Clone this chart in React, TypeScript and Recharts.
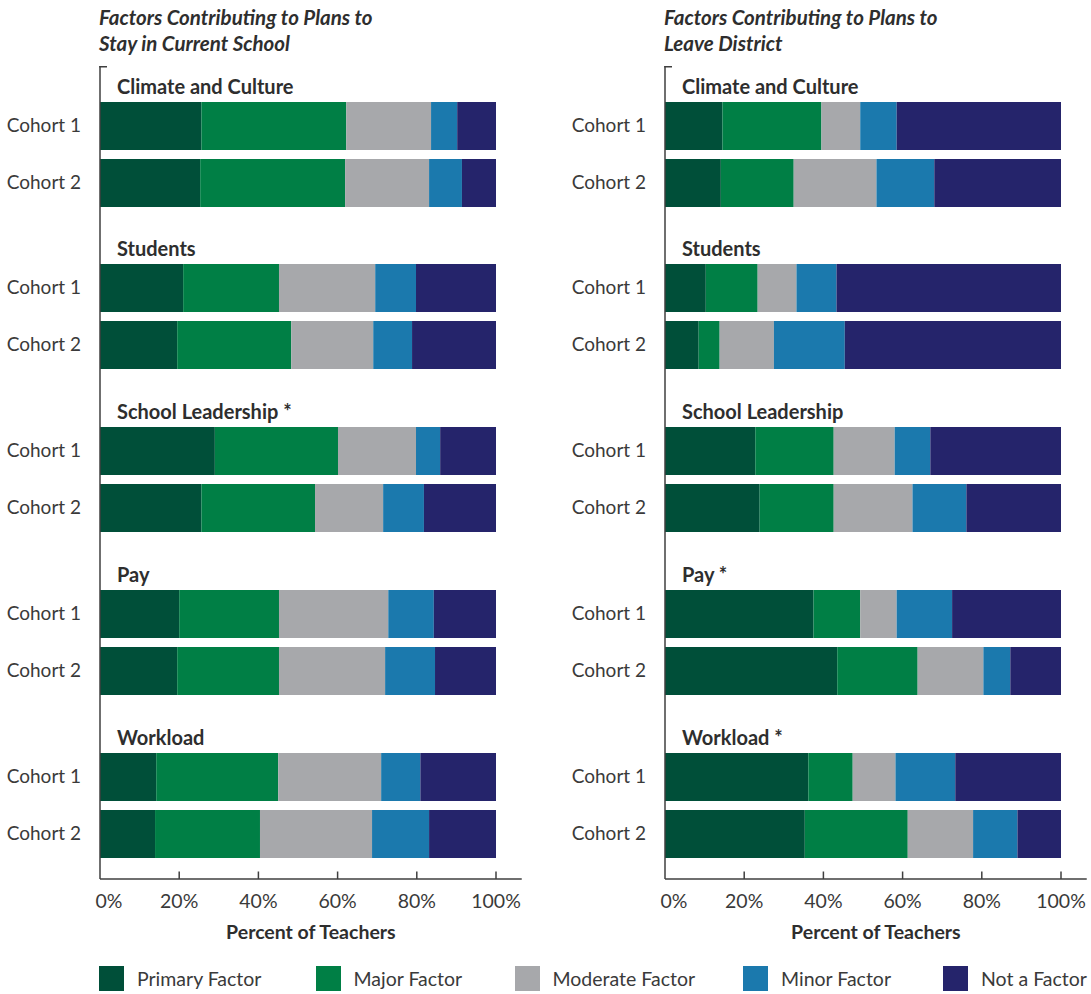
import React from 'react';
import { BarChart, Bar, XAxis, YAxis } from 'recharts';

// ---- data -------------------------------------------------------------
const cohorts = ['Cohort 1', 'Cohort 2'];
const factorKeys = ['primary', 'major', 'moderate', 'minor', 'none'];
const factorLabels = ['Primary Factor', 'Major Factor', 'Moderate Factor', 'Minor Factor', 'Not a Factor'];
const factorColors = ['#004f39', '#007f45', '#a7a8ab', '#1b79ad', '#25246b'];
const percentTicks = [0, 20, 40, 60, 80, 100];

const stayTitle = ['Factors Contributing to Plans to', 'Stay in Current School'];
const leaveTitle = ['Factors Contributing to Plans to', 'Leave District'];
const stayTopics = ['Climate and Culture', 'Students', 'School Leadership *', 'Pay', 'Workload'];
const leaveTopics = ['Climate and Culture', 'Students', 'School Leadership', 'Pay *', 'Workload *'];

// Order in every series: topic 1 (Cohort 1, Cohort 2), topic 2 (Cohort 1, Cohort 2), ...
const stayPrimary = [25.6, 25.3, 21.0, 19.5, 29.0, 25.6, 20.0, 19.5, 14.2, 13.9];
const stayMajor = [36.6, 36.6, 24.2, 28.8, 31.1, 28.7, 25.2, 25.7, 30.8, 26.5];
const stayModerate = [21.4, 21.2, 24.3, 20.7, 19.7, 17.2, 27.6, 26.8, 26.0, 28.3];
const stayMinor = [6.6, 8.3, 10.3, 9.8, 6.1, 10.3, 11.5, 12.6, 9.9, 14.4];
const stayNone = [9.8, 8.6, 20.2, 21.2, 14.1, 18.2, 15.7, 15.4, 19.1, 16.9];

const leavePrimary = [14.5, 14.1, 10.3, 8.5, 22.8, 23.9, 37.5, 43.5, 36.2, 35.3];
const leaveMajor = [25.0, 18.4, 13.1, 5.3, 19.8, 18.7, 11.8, 20.3, 11.2, 26.0];
const leaveModerate = [9.8, 20.9, 9.8, 13.7, 15.4, 19.9, 9.2, 16.6, 10.8, 16.5];
const leaveMinor = [9.2, 14.6, 10.1, 17.9, 9.0, 13.6, 14.0, 6.8, 15.1, 11.2];
const leaveNone = [41.5, 32.0, 56.7, 54.6, 33.0, 23.9, 27.5, 12.8, 26.7, 11.0];

const staySeries = [stayPrimary, stayMajor, stayModerate, stayMinor, stayNone];
const leaveSeries = [leavePrimary, leaveMajor, leaveModerate, leaveMinor, leaveNone];

// ---- layout -----------------------------------------------------------
const FONT = "Lato, 'Open Sans', sans-serif";
const AXIS_COLOR = '#3f3f3f';
const TEXT_COLOR = '#3a3a3a';
const HEAD_COLOR = '#2e2e2e';

const PANEL_LEFT = [0, 565];
const AXIS_X = 100;
const X_MAX = 106.5;
const PX_PER_PCT = 3.96;
const PLOT_W = X_MAX * PX_PER_PCT;
const CHART_W = 545;
const AXIS_TOP = 66;
const GROUP_BAR_TOPS = [101, 263, 426, 589, 752];
const BAND = 57;
const BAR = 48;
const BAR_INSET = 4;
const PAD_BOTTOM = 17;
const X_AXIS_H = 60;
const BOTTOM_ROOM = 10;
const LEGEND_X = [99, 315.5, 514.5, 743, 943];
const LEGEND_TOP = 966;

function groupFrame(g: number) {
  const bandStart = GROUP_BAR_TOPS[g] - BAR_INSET;
  const top = g === 0 ? AXIS_TOP : GROUP_BAR_TOPS[g - 1] - BAR_INSET + 2 * BAND;
  const padTop = bandStart - top;
  const last = g === GROUP_BAR_TOPS.length - 1;
  const padBottom = last ? PAD_BOTTOM : 0;
  const marginBottom = last ? BOTTOM_ROOM : 0;
  const height = padTop + 2 * BAND + padBottom + (last ? X_AXIS_H : 0) + marginBottom;
  return { top, padTop, padBottom, marginBottom, height, last };
}

const PercentTick = (props: any) => {
  const { x, y, payload } = props;
  const v = payload.value;
  return (
    <g>
      {v !== 0 && (
        <line x1={x} x2={x} y1={y} y2={y - 7.5} stroke={AXIS_COLOR} strokeWidth={1.5} />
      )}
      <text
        x={x + (v === 0 ? 9 : 0)}
        y={y + 29}
        textAnchor="middle"
        fontFamily={FONT}
        fontSize={19.5}
        fill={TEXT_COLOR}
      >
        {`${v}%`}
      </text>
    </g>
  );
};

type PanelProps = {
  left: number;
  title: string[];
  topics: string[];
  series: number[][];
};

function Panel({ left, title, topics, series }: PanelProps) {
  return (
    <div style={{ position: 'absolute', left, top: 0, width: CHART_W, height: 994 }}>
      {topics.map((topic, g) => {
        const f = groupFrame(g);
        const rows = cohorts.map((c, i) => {
          const r: Record<string, any> = { cohort: c };
          factorKeys.forEach((k, j) => {
            r[k] = series[j][g * 2 + i];
          });
          return r;
        });
        return (
          <div key={topic} style={{ position: 'absolute', left: 0, top: f.top }}>
            <BarChart
              width={CHART_W}
              height={f.height}
              data={rows}
              layout="vertical"
              barCategoryGap={0}
              margin={{ top: 0, right: CHART_W - AXIS_X - PLOT_W, bottom: f.marginBottom, left: 0 }}
            >
              <XAxis
                type="number"
                domain={[0, X_MAX]}
                ticks={percentTicks}
                interval={0}
                hide={!f.last}
                height={X_AXIS_H}
                axisLine={{ stroke: AXIS_COLOR, strokeWidth: 1.5 }}
                tickLine={false}
                tickSize={0}
                tickMargin={0}
                tick={<PercentTick />}
                label={{
                  value: 'Percent of Teachers',
                  position: 'insideBottom',
                  offset: 0,
                  fill: HEAD_COLOR,
                  fontSize: 19.5,
                  fontWeight: 700,
                  fontFamily: FONT,
                }}
              />
              <YAxis
                type="category"
                dataKey="cohort"
                width={AXIS_X}
                padding={{ top: f.padTop, bottom: f.padBottom }}
                axisLine={{ stroke: AXIS_COLOR, strokeWidth: 1.5 }}
                tickLine={false}
                tickSize={0}
                tickMargin={19}
                interval={0}
                tick={{ fill: TEXT_COLOR, fontSize: 19, fontFamily: FONT }}
              />
              {factorKeys.map((k, j) => (
                <Bar
                  key={k}
                  dataKey={k}
                  name={factorLabels[j]}
                  stackId="share"
                  fill={factorColors[j]}
                  barSize={BAR}
                  isAnimationActive={false}
                />
              ))}
            </BarChart>
          </div>
        );
      })}
      <svg
        width={CHART_W}
        height={994}
        style={{ position: 'absolute', left: 0, top: 0, pointerEvents: 'none', overflow: 'visible' }}
      >
        {title.map((line, i) => (
          <text
            key={line}
            x={AXIS_X - 1}
            y={24.5 + i * 26.5}
            fontFamily={FONT}
            fontSize={20.5}
            fontWeight={700}
            fontStyle="italic"
            fill={HEAD_COLOR}
          >
            {line}
          </text>
        ))}
        <line
          x1={AXIS_X - 0.75}
          x2={AXIS_X + 7}
          y1={AXIS_TOP + 0.75}
          y2={AXIS_TOP + 0.75}
          stroke={AXIS_COLOR}
          strokeWidth={1.5}
        />
        {topics.map((topic, g) => (
          <text
            key={topic}
            x={AXIS_X + 17}
            y={GROUP_BAR_TOPS[g] - 7}
            fontFamily={FONT}
            fontSize={20}
            fontWeight={700}
            fill={HEAD_COLOR}
          >
            {topic}
          </text>
        ))}
      </svg>
    </div>
  );
}

function FactorLegend() {
  return (
    <div style={{ position: 'absolute', left: 0, top: LEGEND_TOP, width: 1091, height: 25 }}>
      {factorLabels.map((name, j) => (
        <div
          key={name}
          style={{
            position: 'absolute',
            left: LEGEND_X[j],
            top: 0,
            height: 25,
            display: 'flex',
            alignItems: 'center',
          }}
        >
          <div style={{ width: 25, height: 25, background: factorColors[j] }} />
          <span
            style={{
              marginLeft: 13,
              fontFamily: FONT,
              fontSize: 19.5,
              lineHeight: '25px',
              color: TEXT_COLOR,
              whiteSpace: 'nowrap',
            }}
          >
            {name}
          </span>
        </div>
      ))}
    </div>
  );
}

export default function App() {
  return (
    <div
      style={{
        position: 'absolute',
        left: 0,
        top: 0,
        width: 1091,
        height: 994,
        background: '#ffffff',
        overflow: 'hidden',
      }}
    >
      <Panel left={PANEL_LEFT[0]} title={stayTitle} topics={stayTopics} series={staySeries} />
      <Panel left={PANEL_LEFT[1]} title={leaveTitle} topics={leaveTopics} series={leaveSeries} />
      <FactorLegend />
    </div>
  );
}
